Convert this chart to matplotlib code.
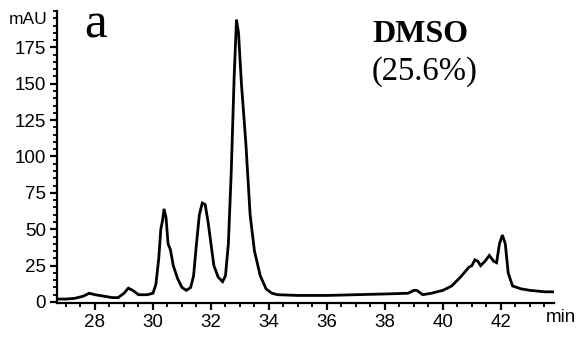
import matplotlib
matplotlib.use("Agg")
import matplotlib.pyplot as plt
from matplotlib.ticker import MultipleLocator

# Retention time (min) and absorbance (mAU)
time_min = [26.70, 27.00, 27.30, 27.60, 27.80, 28.00, 28.30, 28.60, 28.80, 29.00,
            29.15, 29.30, 29.50, 29.80, 30.00, 30.10, 30.20, 30.27, 30.33, 30.38,
            30.45, 30.52, 30.60, 30.70, 30.85, 31.00, 31.15, 31.30, 31.40, 31.50,
            31.60, 31.70, 31.80, 31.90, 32.00, 32.10, 32.25, 32.40, 32.50, 32.60,
            32.70, 32.80, 32.88, 32.95, 33.05, 33.20, 33.35, 33.50, 33.70, 33.90,
            34.10, 34.30, 35.00, 36.00, 37.00, 38.00, 38.80, 39.00, 39.10, 39.30,
            39.60, 40.00, 40.30, 40.60, 40.90, 41.00, 41.10, 41.20, 41.30, 41.45,
            41.60, 41.75, 41.85, 41.95, 42.05, 42.15, 42.25, 42.40, 42.70, 43.00,
            43.50, 43.83]
absorb_mau = [2, 2, 2.5, 4, 6, 5, 4, 3, 3, 6,
              9.5, 8, 5, 5, 6, 12, 30, 50, 56, 64,
              58, 40, 36, 25, 16, 10, 8, 10, 18, 40,
              60, 68, 67, 55, 40, 25, 17, 14, 18, 40,
              90, 155, 194, 185, 150, 110, 60, 35, 18, 9,
              6, 5, 4.5, 4.5, 5, 5.5, 6, 8, 8, 5,
              6, 8, 11, 17, 24, 25, 29, 28, 25, 28,
              32, 28, 27, 40, 46, 40, 20, 11, 9, 8,
              7, 7]

x_ticks = [28, 30, 32, 34, 36, 38, 40, 42]
y_ticks = [0, 25, 50, 75, 100, 125, 150, 175]

fig = plt.figure(figsize=(5.78, 3.40), dpi=100)
ax = fig.add_axes([57/578, 37/340, (554-57)/578, (303-11)/340])

ax.plot(time_min, absorb_mau, color="black", lw=2.0, solid_joinstyle="miter")

ax.set_xlim(26.69, 43.83)
ax.set_ylim(-0.7, 200)

for s in ["top", "right"]:
    ax.spines[s].set_visible(False)
for s in ["left", "bottom"]:
    ax.spines[s].set_linewidth(1.6)

ax.set_xticks(x_ticks)
ax.set_yticks(y_ticks)
ax.xaxis.set_minor_locator(MultipleLocator(0.5))
ax.yaxis.set_minor_locator(MultipleLocator(5))
ax.tick_params(which="major", length=5, width=1.6, labelsize=13.5, pad=3)
ax.tick_params(which="minor", length=3, width=1.3)
for lab in ax.get_xticklabels() + ax.get_yticklabels():
    lab.set_fontfamily("Liberation Sans")

fig.text(9/578, 1 - 20/340, "mAU", fontsize=12.5, family="Liberation Sans",
         va="center", ha="left")
fig.text(546/578, 1 - 318/340, "min", fontsize=13.5, family="Liberation Sans",
         va="center", ha="left")
fig.text(84/578, 1 - 37/340, "a", fontsize=37, family="Liberation Serif",
         va="baseline", ha="left")
fig.text(372/578, 1 - 42/340, "DMSO", fontsize=23, family="Liberation Serif",
         weight="bold", va="baseline", ha="left")
fig.text(372/578, 1 - 80/340, "(25.6%)", fontsize=23.5, family="Liberation Serif",
         va="baseline", ha="left")

fig.savefig("out.png", dpi=100)
